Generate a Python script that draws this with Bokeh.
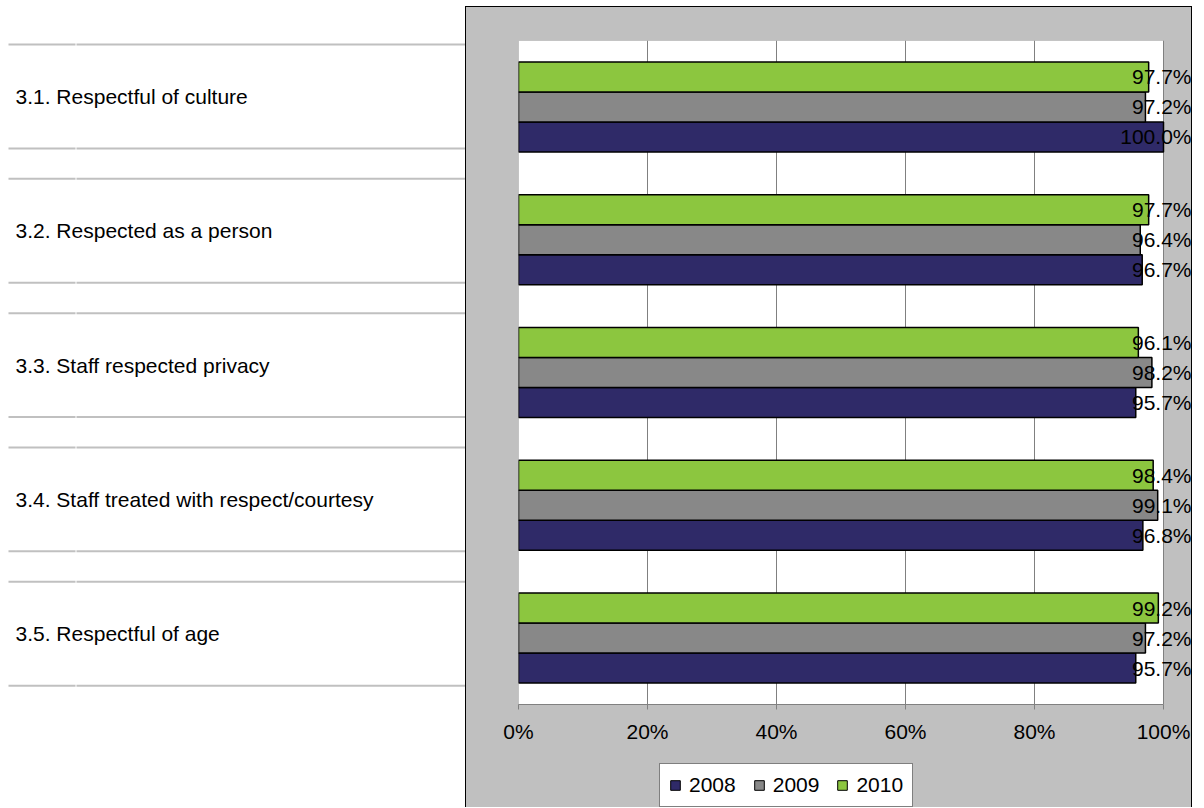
from bokeh.plotting import figure
from bokeh.layouts import row, column
from bokeh.models import (Range1d, FixedTicker, PrintfTickFormatter, Legend, LegendItem,
                          ColumnDataSource, LabelSet, Spacer, BoxAnnotation)
from bokeh.core.properties import value
from bokeh.embed import file_html
from bokeh.resources import INLINE

# ---- data -------------------------------------------------------------
categories = [
    "3.1. Respectful of culture",
    "3.2. Respected as a person",
    "3.3. Staff respected privacy",
    "3.4. Staff treated with respect/courtesy",
    "3.5. Respectful of age",
]
years = ["2008", "2009", "2010"]
values_2008 = [100.0, 96.7, 95.7, 96.8, 95.7]
values_2009 = [97.2, 96.4, 98.2, 99.1, 97.2]
values_2010 = [97.7, 97.7, 96.1, 98.4, 99.2]
x_ticks = [0, 20, 40, 60, 80, 100]

colors = {"2008": "#2f2a68", "2009": "#888888", "2010": "#8cc63f"}
FONT = "Liberation Sans"
FS = "21px"
PANEL = "#c0c0c0"
n = len(categories)
page_h = 808

# ---- left-hand table with the item descriptions -----------------------
row_pitch = 134.3      # px between table rows
first_row = 96.0       # px of first row centre
row_half = 0.387       # half row height, in row units

left = figure(width=465, height=page_h,
              x_range=Range1d(0, 465),
              y_range=Range1d((page_h - first_row) / row_pitch, -first_row / row_pitch),
              x_axis_location=None, y_axis_location=None,
              toolbar_location=None, output_backend="svg", min_border=0)
left.outline_line_color = None
left.background_fill_color = "white"
left.border_fill_color = "white"
left.grid.visible = False

rows = list(range(n))
edges = [r - row_half for r in rows] + [r + row_half for r in rows]
# two table columns: a narrow one on the left and the wide description column
left.segment(x0=[8] * len(edges), x1=[75] * len(edges), y0=edges, y1=edges,
             line_color="#c0c0c0", line_width=2)
left.segment(x0=[76] * len(edges), x1=[465] * len(edges), y0=edges, y1=edges,
             line_color="#c0c0c0", line_width=2)
left.text(x=[15] * n, y=rows, text=categories, text_font=value(FONT),
          text_font_size=FS, text_baseline="middle", text_align="left",
          text_color="black")

# ---- bar chart ----------------------------------------------------------
px_per_pct = 6.45          # 645 px for 0..100 %
right_pad = 30             # grey margin right of the 100 % line, in px
panel_w = 727
chart_h = 745
legend_h = page_h - 6 - 1 - chart_h

rf = figure(width=panel_w, height=chart_h,
            x_range=Range1d(0, 100 + right_pad / px_per_pct), y_range=Range1d(0, n),
            y_axis_location=None,
            toolbar_location=None, output_backend="svg",
            min_border_left=52, min_border_right=0,
            min_border_top=33, min_border_bottom=48)
rf.background_fill_color = PANEL
rf.border_fill_color = PANEL
rf.outline_line_color = None
rf.ygrid.visible = False
rf.styles = {"border-left": "1px solid black",
             "border-top": "1px solid black",
             "border-right": "1px solid black",
             "background-color": PANEL}

# white plot area from 0 % to 100 %
rf.renderers.append(BoxAnnotation(left=0, right=100, bottom=0, top=n,
                                  fill_color="white", fill_alpha=1.0,
                                  line_color="#808080", line_width=1, level="image"))

bar_h = 0.226
centers = [n - 0.5 - i for i in range(n)]
offsets = {"2008": -bar_h, "2009": 0.0, "2010": bar_h}
series = {"2008": values_2008, "2009": values_2009, "2010": values_2010}

for yr in years:
    vals = series[yr]
    src = ColumnDataSource(dict(
        y=[c + offsets[yr] for c in centers],
        v=vals,
        xr=[100] * n,
        label=[f"{v:.1f}%" for v in vals],
    ))
    rf.hbar(y="y", left=0, right="v", height=bar_h, source=src,
            fill_color=colors[yr], line_color="black", line_width=1.5)
    rf.add_layout(LabelSet(x="xr", y="y", text="label", source=src,
                           x_offset=28, text_align="right", text_baseline="middle",
                           text_font=value(FONT), text_font_size=FS,
                           text_color="black"))

ax = rf.xaxis[0]
ax.ticker = FixedTicker(ticks=x_ticks)
ax.formatter = PrintfTickFormatter(format="%d%%")
ax.bounds = (0, 100)
ax.major_label_text_font = FONT
ax.major_label_text_font_size = FS
ax.major_label_text_color = "black"
ax.axis_line_color = "#808080"
ax.major_tick_line_color = "#808080"
ax.major_tick_out = 5
ax.major_tick_in = 0
ax.minor_tick_out = 0
ax.minor_tick_in = 0
ax.major_label_standoff = 10

rf.xgrid.ticker = FixedTicker(ticks=x_ticks)
rf.xgrid.grid_line_color = "#808080"
rf.xgrid.grid_line_width = 1

# ---- legend strip at the foot of the grey panel -------------------------
lg = figure(width=panel_w, height=legend_h,
            x_range=Range1d(0, panel_w), y_range=Range1d(0, legend_h),
            x_axis_location=None, y_axis_location=None,
            toolbar_location=None, output_backend="svg", min_border=0)
lg.background_fill_color = PANEL
lg.border_fill_color = PANEL
lg.outline_line_color = None
lg.grid.visible = False
lg.styles = {"border-left": "1px solid black",
             "border-right": "1px solid black",
             "background-color": PANEL}

nan = float("nan")
swatches = {yr: lg.hbar(y=[nan], left=[nan], right=[nan], height=1,
                        fill_color=colors[yr], line_color="black", line_width=1)
            for yr in years}

# legend offset is measured from the left edge of the plot area (0 %)
legend = Legend(items=[LegendItem(label=yr, renderers=[swatches[yr]]) for yr in years],
                location=(141, 0), orientation="horizontal",
                glyph_width=12, glyph_height=12, label_standoff=8, spacing=17,
                padding=9, margin=0,
                border_line_color="black", border_line_width=1,
                background_fill_color="white", background_fill_alpha=1.0,
                label_text_font=FONT, label_text_font_size=FS,
                label_text_color="black")
lg.add_layout(legend)

layout = row(left, column(Spacer(height=6), rf, lg))

open("out.html", "w").write(file_html(layout, INLINE))
